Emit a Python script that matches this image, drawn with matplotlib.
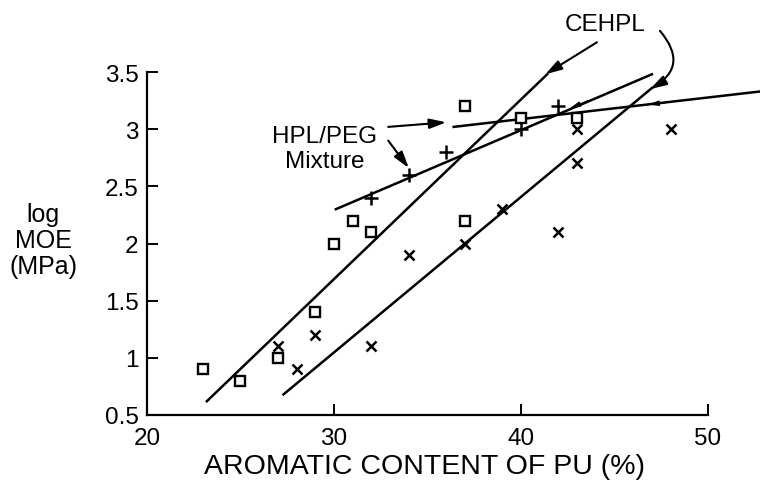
import matplotlib.pyplot as plt
from matplotlib.ticker import FuncFormatter

plt.rcParams["font.family"] = ["Liberation Sans", "DejaVu Sans"]

# open squares
sq_x = [23, 25, 27, 29, 30, 31, 32, 37, 37, 40, 43]
sq_y = [0.9, 0.8, 1.0, 1.4, 2.0, 2.2, 2.1, 3.2, 2.2, 3.1, 3.1]
# crosses
cr_x = [27, 28, 29, 32, 34, 37, 39, 42, 43, 43, 48]
cr_y = [1.1, 0.9, 1.2, 1.1, 1.9, 2.0, 2.3, 2.1, 2.7, 3.0, 3.0]
# plus (HPL/PEG mixture)
pl_x = [32, 34, 36, 40, 42]
pl_y = [2.4, 2.6, 2.8, 3.0, 3.2]

# fitted lines (end points)
line_sq_x = [23.2, 41.4]
line_sq_y = [0.62, 3.48]
line_cr_x = [27.3, 47.0]
line_cr_y = [0.68, 3.36]
line_pl_x = [30.1, 47.0]
line_pl_y = [2.30, 3.48]
line_flat_x = [36.4, 52.8]
line_flat_y = [3.02, 3.33]

xticks = [20, 30, 40, 50]
yticks = [0.5, 1, 1.5, 2, 2.5, 3, 3.5]

fig = plt.figure(figsize=(7.6, 4.89), dpi=100)
ax = fig.add_axes([0.1934, 0.1493, 0.8066, 0.7014])

lw = 1.8
ax.plot(line_sq_x, line_sq_y, color="black", lw=lw, clip_on=False)
ax.plot(line_cr_x, line_cr_y, color="black", lw=lw, clip_on=False)
ax.plot(line_pl_x, line_pl_y, color="black", lw=lw, clip_on=False)
ax.plot(line_flat_x, line_flat_y, color="black", lw=lw, clip_on=False)

ax.plot(sq_x, sq_y, "s", ms=7.5, mfc="white", mec="black", mew=1.7, ls="none", clip_on=False)
ax.plot(cr_x, cr_y, "x", ms=7.5, color="black", mew=1.8, ls="none", clip_on=False)
ax.plot(pl_x, pl_y, "+", ms=10, color="black", mew=1.8, ls="none", clip_on=False)

ax.set_xlim(20, 52.78)
ax.set_ylim(0.5, 3.5)
ax.spines["top"].set_visible(False)
ax.spines["right"].set_visible(False)
ax.spines["bottom"].set_bounds(20, 50)
for s in ("left", "bottom"):
    ax.spines[s].set_linewidth(1.6)

ax.set_xticks(xticks)
ax.set_yticks(yticks)
ax.yaxis.set_major_formatter(FuncFormatter(lambda v, p: f"{v:g}"))
ax.tick_params(direction="in", length=8, width=1.4, labelsize=17.5)
ax.tick_params(axis="x", pad=9)
ax.tick_params(axis="y", pad=6)

ax.set_xlabel("AROMATIC CONTENT OF PU (%)", fontsize=20.5, va="center")
ax.xaxis.set_label_coords(0.4535, -0.149)
fig.text(0.057, 0.507, "log\nMOE\n(MPa)", ha="center", va="center",
         fontsize=18, linespacing=1.1)

arrow = dict(arrowstyle="-|>,head_length=1.0,head_width=0.3", color="black",
             lw=1.5, shrinkA=0, shrinkB=0)

# CEHPL label and arrows
ax.text(44.5, 3.92, "CEHPL", ha="center", va="center", fontsize=17.5)
ax.annotate("", xy=(41.3, 3.48), xytext=(44.06, 3.76),
            arrowprops=arrow, annotation_clip=False)
ax.annotate("", xy=(46.9, 3.35), xytext=(47.43, 3.86),
            arrowprops=dict(arrow, connectionstyle="arc3,rad=-0.6"),
            annotation_clip=False)

# HPL/PEG label and arrows
ax.text(29.5, 2.94, "HPL/PEG", ha="center", va="center", fontsize=17.5)
ax.text(29.5, 2.72, "Mixture", ha="center", va="center", fontsize=17.5)
ax.annotate("", xy=(36.0, 3.06), xytext=(32.9, 3.02),
            arrowprops=arrow, annotation_clip=False)
ax.annotate("", xy=(34.0, 2.66), xytext=(32.9, 2.90),
            arrowprops=arrow, annotation_clip=False)

# small direction heads on the upper lines
small = dict(arrowstyle="-|>,head_length=0.6,head_width=0.15", color="black",
             lw=1.0, shrinkA=0, shrinkB=0)
ax.annotate("", xy=(42.6, 3.18), xytext=(43.6, 3.25), arrowprops=small)
ax.annotate("", xy=(46.8, 3.215), xytext=(47.8, 3.235), arrowprops=small)

fig.savefig("out.png", dpi=100)
